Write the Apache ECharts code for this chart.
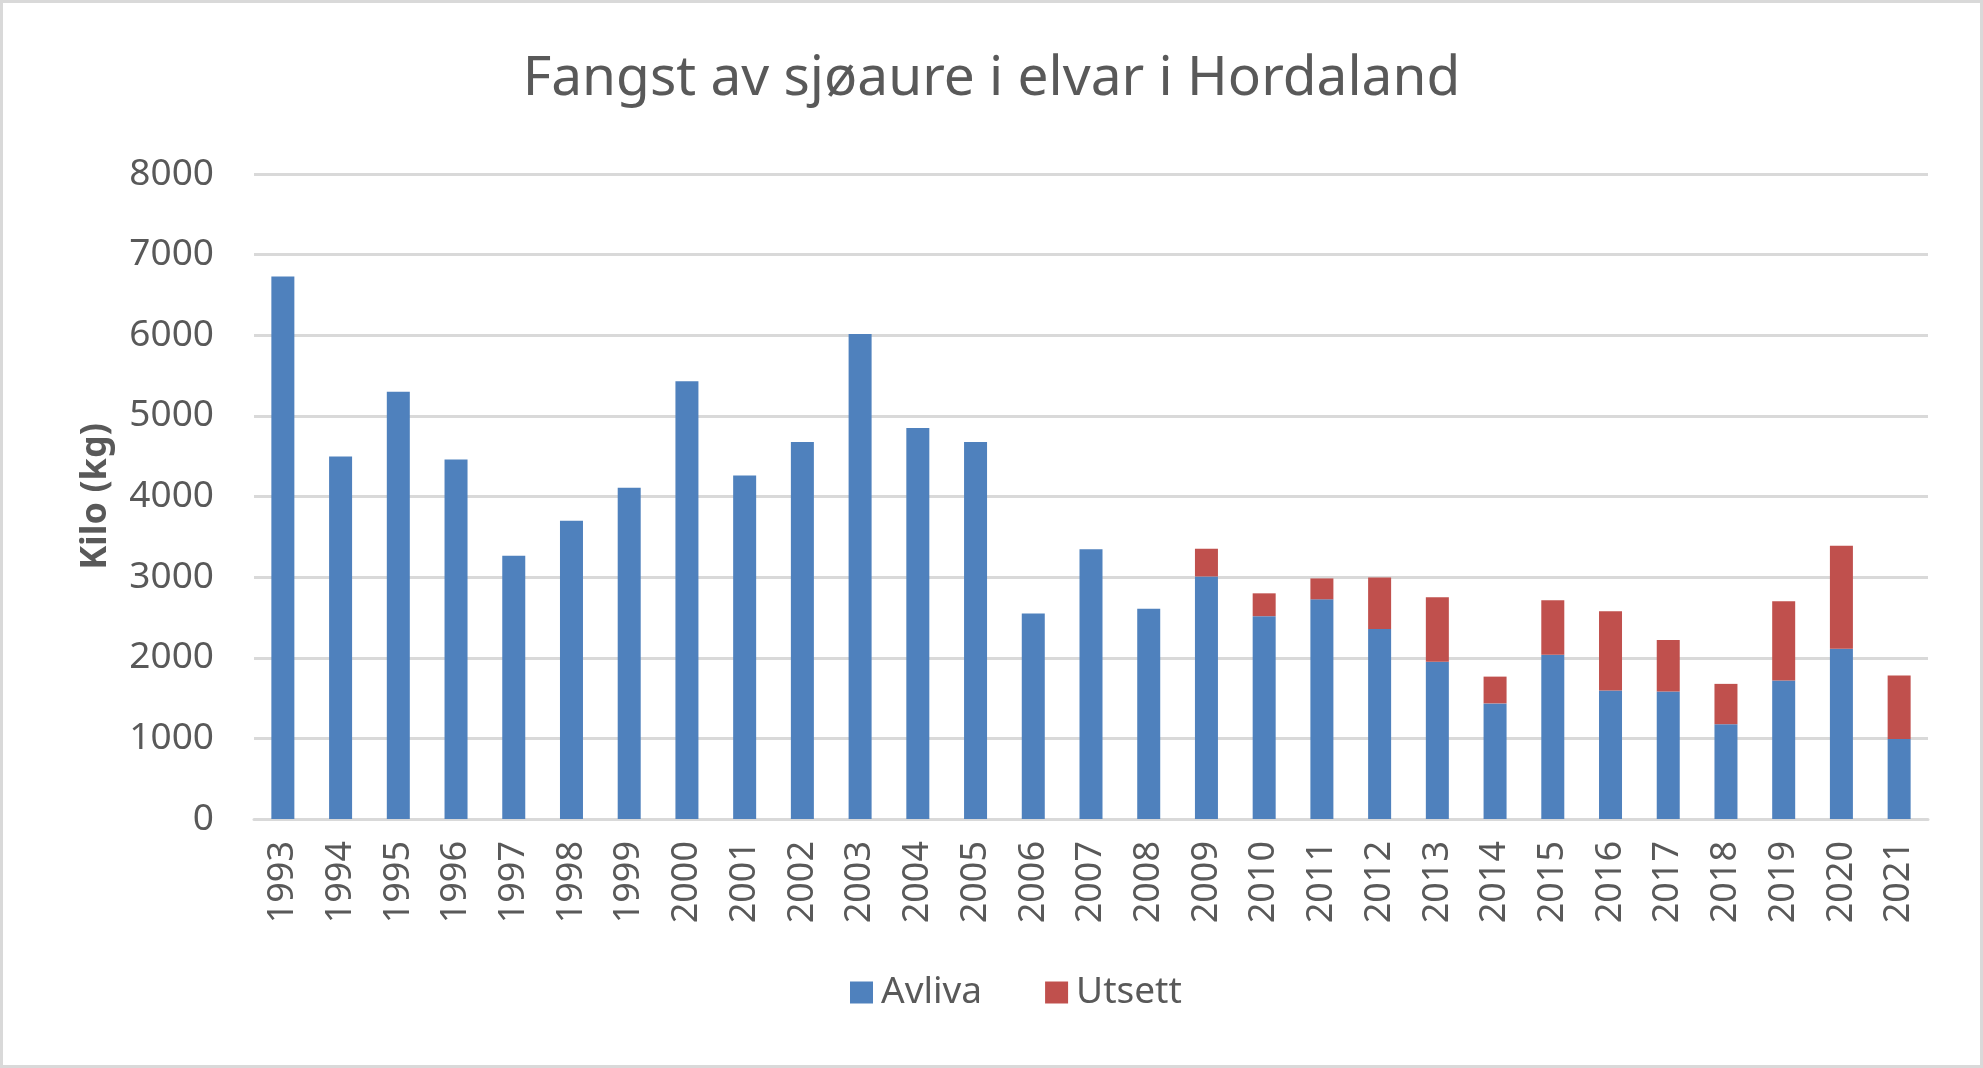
<!DOCTYPE html>
<html>
<head>
<meta charset="utf-8">
<script src="https://cdn.jsdelivr.net/npm/echarts@6/dist/echarts.min.js"></script>
<style>
  html, body { margin: 0; padding: 0; background: #fff; }
  #chart { width: 1983px; height: 1068px; box-sizing: border-box; border: 3px solid #d9d9d9; }
</style>
</head>
<body>
<div id="chart"></div>
<script>
// years on the x axis
var years = ['1993', '1994', '1995', '1996', '1997', '1998', '1999', '2000', '2001', '2002',
  '2003', '2004', '2005', '2006', '2007', '2008', '2009', '2010', '2011', '2012',
  '2013', '2014', '2015', '2016', '2017', '2018', '2019', '2020', '2021'];

// kilo killed
var avliva = [6730, 4495, 5300, 4460, 3265, 3700, 4110, 5430, 4260, 4675,
  6015, 4850, 4675, 2548, 3345, 2608, 3008, 2516, 2725, 2357,
  1951, 1434, 2037, 1594, 1582, 1176, 1717, 2111, 992];

// kilo released (no data before 2009)
var utsett = [null, null, null, null, null, null, null, null, null, null,
  null, null, null, null, null, null, 344, 283, 259, 639,
  799, 332, 676, 984, 639, 500, 984, 1278, 787];

var yTicks = { min: 0, max: 8000, step: 1000 };

var textColor = '#595959';
var font = 'Noto Sans';

var chart = echarts.init(document.getElementById('chart'));

var option = {
  animation: false,
  backgroundColor: '#fff',
  title: {
    text: 'Fangst av sjøaure i elvar i Hordaland',
    left: 'center',
    top: 44,
    textStyle: { fontFamily: font, fontSize: 55, fontWeight: 'normal', color: textColor }
  },
  legend: {
    data: ['Avliva', 'Utsett'],
    left: 842,
    top: 966,
    itemWidth: 23,
    itemHeight: 22,
    itemGap: 63,
    icon: 'rect',
    textStyle: { fontFamily: font, fontSize: 37, color: textColor, padding: [0, 0, 0, 3] }
  },
  grid: { left: 251, right: 52, top: 171, bottom: 246, containLabel: false },
  xAxis: {
    type: 'category',
    data: years,
    axisLine: { lineStyle: { color: '#d9d9d9', width: 3 } },
    axisTick: { show: false },
    axisLabel: { rotate: 90, margin: 22, fontFamily: font, fontSize: 36, color: textColor }
  },
  yAxis: {
    type: 'value',
    min: yTicks.min,
    max: yTicks.max,
    interval: yTicks.step,
    name: 'Kilo (kg)',
    nameLocation: 'middle',
    nameRotate: 90,
    nameGap: 140,
    nameTextStyle: { fontFamily: font, fontSize: 36, fontWeight: 'bold', color: textColor },
    axisLine: { show: false },
    axisTick: { show: false },
    splitLine: { lineStyle: { color: '#d9d9d9', width: 3 } },
    axisLabel: {
      margin: 40, fontFamily: font, fontSize: 37, color: textColor,
      formatter: function (v) { return String(v); }
    }
  },
  series: [
    {
      name: 'Avliva',
      type: 'bar',
      stack: 'total',
      barWidth: 23,
      itemStyle: { color: '#4f81bd' },
      data: avliva
    },
    {
      name: 'Utsett',
      type: 'bar',
      stack: 'total',
      barWidth: 23,
      itemStyle: { color: '#c0504d' },
      data: utsett
    }
  ]
};

chart.setOption(option);
</script>
</body>
</html>
